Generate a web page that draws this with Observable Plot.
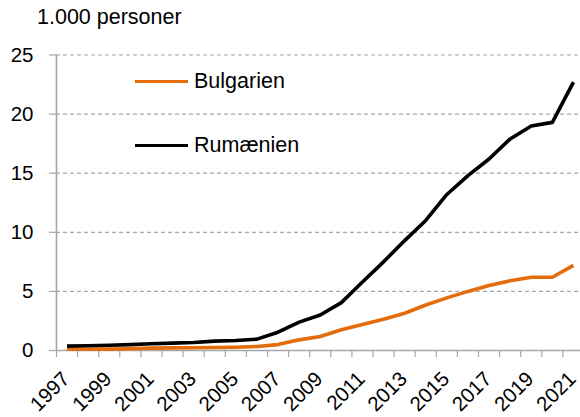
<!DOCTYPE html>
<html>
<head>
<meta charset="utf-8">
<script src="https://cdn.jsdelivr.net/npm/d3@7"></script>
<script src="https://cdn.jsdelivr.net/npm/@observablehq/plot@0.6"></script>
<style>
  html, body { margin: 0; padding: 0; background: #fff; }
  body { width: 580px; height: 417px; position: relative; overflow: hidden; font-family: "Liberation Sans", Arial, sans-serif; }
  #title { position: absolute; left: 37px; top: 7px; font-size: 21.5px; line-height: 21px; color: #000; white-space: nowrap; }
  #chart { position: absolute; left: 0; top: 36px; }
  .leg { position: absolute; left: 135px; display: flex; align-items: center; font-size: 21.5px; color: #000; white-space: nowrap; }
  .leg .sw { width: 53px; height: 0; border-top: 3.5px solid; margin-right: 6px; }
</style>
</head>
<body>
<div id="title">1.000 personer</div>
<div id="chart"></div>
<div id="legend"></div>
<script>
const years = [1997,1998,1999,2000,2001,2002,2003,2004,2005,2006,2007,2008,2009,2010,2011,2012,2013,2014,2015,2016,2017,2018,2019,2020,2021];
const bulgarien = [0.1,0.1,0.12,0.15,0.2,0.22,0.23,0.25,0.28,0.34,0.5,0.9,1.18,1.75,2.2,2.65,3.15,3.85,4.45,5.0,5.5,5.9,6.2,6.2,7.2];
const rumaenien = [0.37,0.4,0.45,0.5,0.57,0.62,0.68,0.79,0.85,0.96,1.55,2.4,3.0,4.05,5.8,7.5,9.3,11.0,13.2,14.8,16.2,17.9,19.0,19.3,22.7];
const seriesNames = ["Bulgarien", "Rumænien"];
const seriesColors = ["#e46c0a", "#000000"];
const yTicks = [0,5,10,15,20,25];
const xLabels = [1997,1999,2001,2003,2005,2007,2009,2011,2013,2015,2017,2019,2021];

const data = [];
years.forEach((yr, i) => {
  data.push({year: yr, value: bulgarien[i], serie: seriesNames[0]});
  data.push({year: yr, value: rumaenien[i], serie: seriesNames[1]});
});
const boundaries = [years[0] - 0.5, ...years.map(y => y + 0.5)];
const gridCol = "#a6a6a6";

const plot = Plot.plot({
  width: 580,
  height: 381,
  marginLeft: 56,
  marginRight: -3.5,
  marginTop: 18.5,
  marginBottom: 67,
  style: {fontFamily: "'Liberation Sans', Arial, sans-serif", fontSize: "20px", color: "#000", background: "transparent", overflow: "visible"},
  x: {domain: [years[0] - 0.5, years[years.length - 1] + 0.5]},
  y: {domain: [0, 25]},
  color: {domain: seriesNames, range: seriesColors},
  marks: [
    Plot.gridY(yTicks.slice(1), {stroke: gridCol, strokeOpacity: 1, strokeWidth: 1.2, strokeDasharray: "4,3"}),
    Plot.axisY(yTicks, {tickSize: 7, tickPadding: 16, stroke: gridCol, strokeWidth: 1.2, label: null, fill: "#000", fontSize: 20.5}),
    Plot.ruleX([boundaries[0]], {y1: 0, y2: 25, stroke: gridCol, strokeWidth: 1.6}),
    Plot.axisX(boundaries, {tickSize: 7, tickFormat: () => "", stroke: gridCol, strokeWidth: 1.2, label: null}),
    Plot.ruleY([0], {stroke: gridCol, strokeWidth: 1.6}),
    Plot.axisX(xLabels, {tickSize: 0, tickPadding: 25, tickRotate: -45, dx: -1, fontSize: 20.5, tickFormat: d => String(d), label: null, fill: "#000"}),
    Plot.line(data, {x: "year", y: "value", z: "serie", stroke: "serie", strokeWidth: 3.6, strokeLinejoin: "round", strokeLinecap: "butt"})
  ]
});
document.getElementById("chart").appendChild(plot);

const legend = document.getElementById("legend");
const legendTops = [69, 133];
seriesNames.forEach((name, i) => {
  const d = document.createElement("div");
  d.className = "leg";
  d.style.top = legendTops[i] + "px";
  d.innerHTML = `<span class="sw" style="border-color:${seriesColors[i]}"></span><span>${name}</span>`;
  legend.appendChild(d);
});
</script>
</body>
</html>
